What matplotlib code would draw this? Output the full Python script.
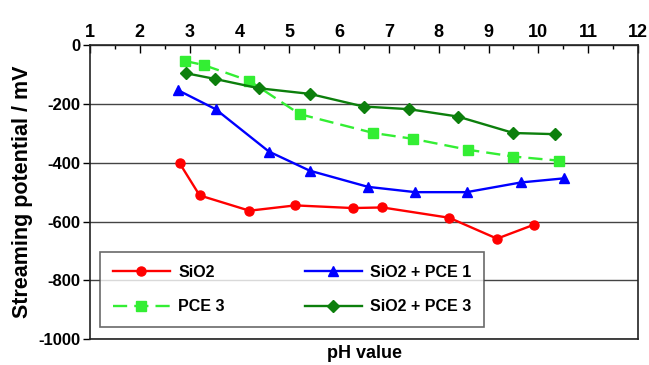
import matplotlib.pyplot as plt
from matplotlib.ticker import MultipleLocator

plt.rcParams['font.family'] = ['Liberation Sans', 'DejaVu Sans']
plt.rcParams['font.weight'] = 'bold'
plt.rcParams['axes.unicode_minus'] = False

# SiO2
ph_sio2 = [2.8, 3.2, 4.2, 5.12, 6.27, 6.87, 8.21, 9.17, 9.92]
pot_sio2 = [-402, -511, -563, -545, -554, -552, -587, -658, -610]

# SiO2 + PCE 1
ph_pce1 = [2.76, 3.52, 4.59, 5.41, 6.58, 7.53, 8.56, 9.65, 10.52]
pot_pce1 = [-153, -218, -362, -427, -482, -500, -500, -467, -453]

# PCE 3
ph_pce3 = [2.9, 3.28, 4.2, 5.21, 6.69, 7.49, 8.59, 9.5, 10.42]
pot_pce3 = [-54, -68, -122, -235, -299, -319, -356, -379, -393]

# SiO2 + PCE 3
ph_sio2_pce3 = [2.93, 3.5, 4.39, 5.41, 6.49, 7.4, 8.38, 9.5, 10.34]
pot_sio2_pce3 = [-96, -115, -147, -166, -209, -218, -243, -299, -303]

fig = plt.figure(figsize=(6.49, 3.65), dpi=100)
ax = fig.add_axes([0.1387, 0.0704, 0.8444, 0.8063])

ax.plot(ph_sio2, pot_sio2, color='#ff0000', lw=1.7, marker='o', ms=6.5, label='SiO2')
ax.plot(ph_pce3, pot_pce3, color='#33ee33', lw=1.7, marker='s', ms=6.5,
        dashes=(6, 3), label='PCE 3')
ax.plot(ph_pce1, pot_pce1, color='#0000ff', lw=1.7, marker='^', ms=7.5, label='SiO2 + PCE 1')
ax.plot(ph_sio2_pce3, pot_sio2_pce3, color='#0c7f0c', lw=1.7, marker='D', ms=6.5,
        label='SiO2 + PCE 3')

ax.set_xlim(1, 12)
ax.set_ylim(-1000, 0)
ax.xaxis.tick_top()
ax.xaxis.set_major_locator(MultipleLocator(1))
ax.xaxis.set_minor_locator(MultipleLocator(0.5))
ax.yaxis.set_major_locator(MultipleLocator(200))
ax.tick_params(axis='x', which='major', direction='in', length=6, width=1, labelsize=13, pad=3)
ax.tick_params(axis='x', which='minor', direction='in', length=3, width=1)
ax.tick_params(axis='y', direction='out', length=5, width=1, labelsize=12, pad=2)
ax.grid(axis='y', color='#444444', lw=1)
ax.set_axisbelow(True)
for s in ax.spines.values():
    s.set_linewidth(1.2)
    s.set_color('#222222')

ax.set_ylabel('Streaming potential / mV', fontsize=15.5, fontweight='bold', labelpad=4)
ax.set_xlabel('pH value', fontsize=13, fontweight='bold', labelpad=4)
ax.xaxis.set_label_position('bottom')

leg = ax.legend(ncol=2, loc='lower left', bbox_to_anchor=(0.018, 0.042, 0.701, 0.245),
                mode='expand', borderaxespad=0, fontsize=11.5, frameon=True,
                fancybox=False, edgecolor='#444444', handlelength=3.6,
                handletextpad=0.5, borderpad=0.8, labelspacing=1.2, columnspacing=2.0)
leg.get_frame().set_linewidth(1.2)

fig.savefig('out.png', dpi=100)
